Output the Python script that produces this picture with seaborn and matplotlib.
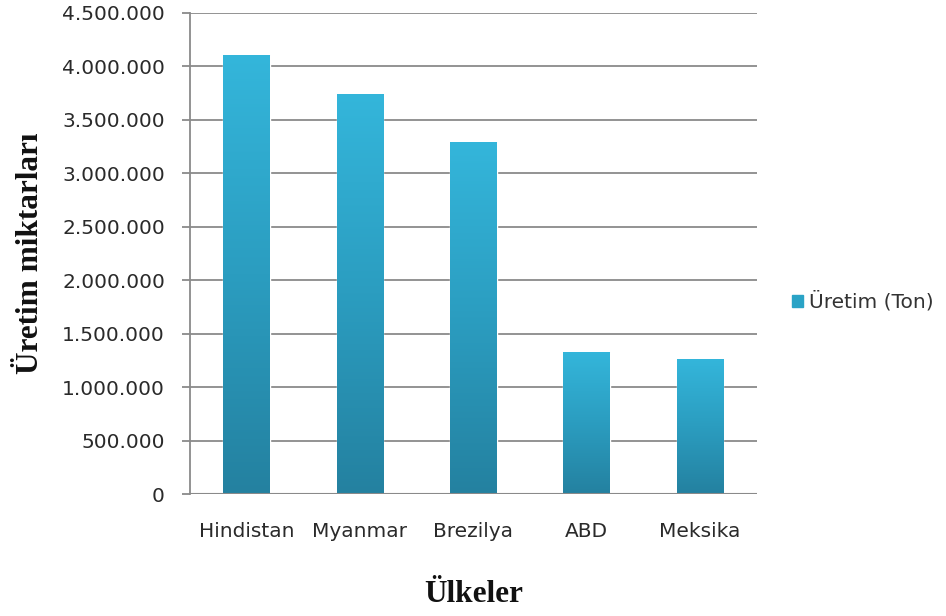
import numpy as np
import pandas as pd
import matplotlib
matplotlib.use("Agg")
import matplotlib.pyplot as plt
import seaborn as sns
from matplotlib.colors import LinearSegmentedColormap
from matplotlib.ticker import FuncFormatter

countries = ["Hindistan", "Myanmar", "Brezilya", "ABD", "Meksika"]
production = [4110000, 3745000, 3296000, 1330000, 1265000]
series_name = "Üretim (Ton)"
y_ticks = [0, 500000, 1000000, 1500000, 2000000, 2500000, 3000000, 3500000, 4000000, 4500000]

sns.set_theme(style="white")
plt.rcParams["font.family"] = ["DejaVu Sans"]

df = pd.DataFrame({"Ülke": countries, "Üretim": production, "Seri": series_name})

fig = plt.figure(figsize=(9.46, 6.16), dpi=100)
ax = fig.add_axes([0.2008, 0.198, 0.599, 0.781])

sns.barplot(data=df, x="Ülke", y="Üretim", hue="Seri", palette=["#2aa3c6"],
            width=0.41, ax=ax, legend=True)

ax.set_ylim(0, 4500000)
ax.set_xlim(-0.5, len(countries) - 0.5)
ax.set_yticks(y_ticks)
ax.yaxis.set_major_formatter(FuncFormatter(lambda v, p: f"{int(v):,}".replace(",", ".")))

# gradient fill on bars
cmap = LinearSegmentedColormap.from_list("g", ["#2481a0", "#2b9dc0", "#34b6db"])
grad = np.linspace(0, 1, 256).reshape(-1, 1)
for patch in ax.patches:
    x0, y0 = patch.get_x(), patch.get_y()
    w, h = patch.get_width(), patch.get_height()
    if h <= 0:
        continue
    im = ax.imshow(grad, cmap=cmap, origin="lower", aspect="auto",
                   extent=[x0, x0 + w, y0, y0 + h], zorder=patch.get_zorder() + 0.1)
    im.set_clip_path(patch)
ax.set_xlim(-0.5, len(countries) - 0.5)
ax.set_ylim(0, 4500000)

ax.yaxis.grid(True, color="#8a8a8a", linewidth=1.3)
ax.set_axisbelow(True)
for s in ["top", "right", "bottom"]:
    ax.spines[s].set_visible(False)
ax.spines["left"].set_color("#8a8a8a")
ax.spines["left"].set_linewidth(1.3)
ax.axhline(0, color="#8a8a8a", linewidth=1.5, zorder=5)

ax.tick_params(axis="y", which="major", left=True, length=6, width=1.3, color="#8a8a8a",
               labelsize=14.5, labelcolor="#2a2a2a", pad=12)
ax.tick_params(axis="x", bottom=False, labelsize=14.5, labelcolor="#2a2a2a", pad=14)

ax.set_xlabel("Ülkeler", family=["Liberation Serif"], fontweight="bold", fontsize=22.5,
              color="#111111", labelpad=28)
ax.set_ylabel("Üretim miktarları", family=["Liberation Serif"], fontweight="bold", fontsize=22.5,
              color="#111111", labelpad=12)

leg = ax.legend(loc="center left", bbox_to_anchor=(1.03, 0.40), frameon=False,
                fontsize=14.5, handlelength=0.55, handleheight=0.55, handletextpad=0.3,
                labelcolor="#333333")
for h in leg.legend_handles:
    h.set_color("#2aa3c6")

fig.savefig("out.png", dpi=100, facecolor="white")
